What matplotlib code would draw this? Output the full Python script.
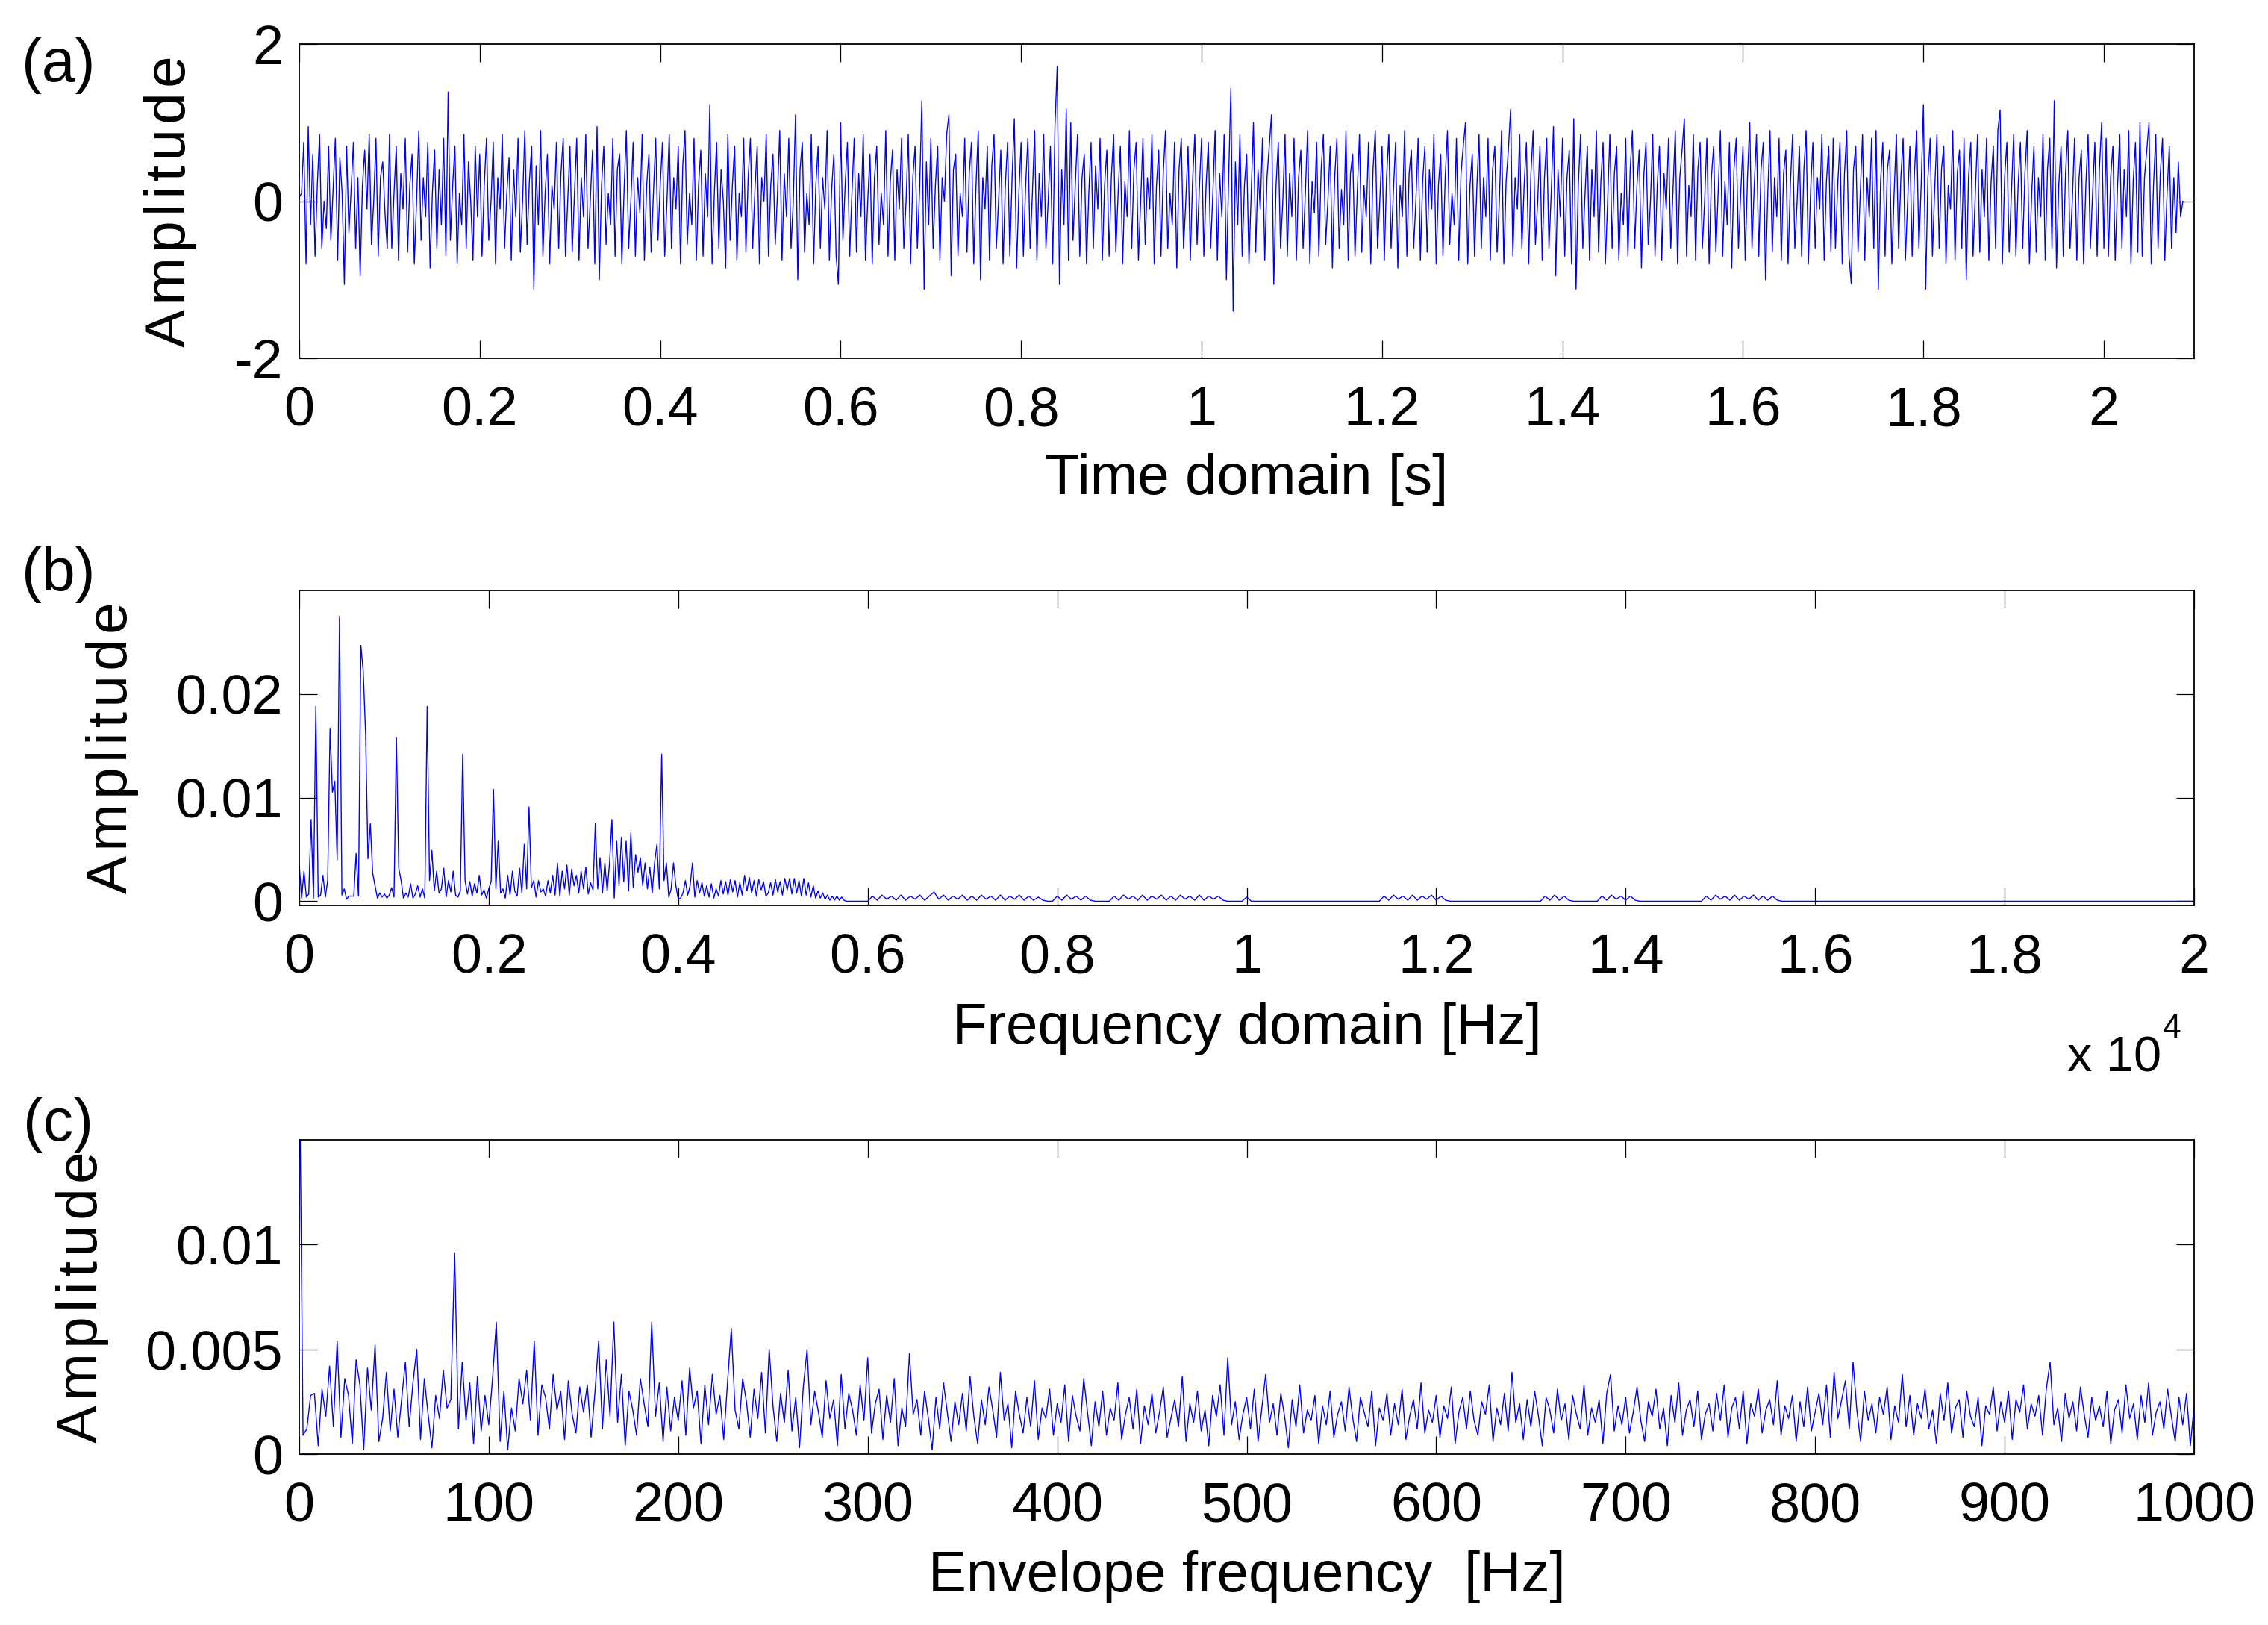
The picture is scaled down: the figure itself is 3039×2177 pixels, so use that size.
import numpy as np
import matplotlib
matplotlib.use('Agg')
import matplotlib.pyplot as plt

# ---------------- data ----------------
# (a) time signal, 400 display samples per second
time_fs = 400.0
time_amp = [
 .05,.1,.75,-.8,.95,-.3,.6,-.7,.2,.85,-.6,.0,-.35,.7,-.5,.15,.8,-.75,.55,.1,-1.06,.7,-.4,.15,.75,-.6,.3,-.95,.2,.65,-.1,.85,-.55,.0,.8,-.7,.3,.5,-.15,-.6,
 .85,-.6,.1,.7,-.75,.35,-.1,.8,-.65,.2,.6,-.8,.0,.9,-.5,.3,-.2,.75,-.85,.1,.65,-.6,.4,-.3,.8,-.7,1.39,-.5,.2,.7,-.8,.1,-.3,.85,-.6,.5,.0,-.75,.7,-.2,
 .6,-.7,.2,.8,-.5,.0,.75,-.8,.3,-.1,.85,-.6,.1,.55,-.75,.4,-.2,.8,-.65,.0,.9,-.55,.25,.7,-1.12,.45,-.3,.9,-.7,.1,.6,-.8,.2,-.1,.75,-.6,.35,.8,-.7,.0,
 .7,-.65,.1,.8,-.75,.3,-.2,.85,-.6,.0,.65,-.8,.95,-1.0,.2,.7,-.55,.1,-.3,.8,-.7,.4,.6,-.8,.15,.9,-.6,.0,.75,-.7,.3,-.15,.85,-.75,.2,.6,-.65,.1,.8,-.5,
 .2,.75,-.7,.0,.85,-.6,.3,-.1,.7,-.8,.45,.9,-.55,.1,-.3,.8,-.75,.2,.65,-.7,.35,-.2,1.23,-.8,.1,.75,-.6,.4,.0,-.85,.85,-.5,.2,.7,-.75,.1,-.2,.8,-.65,.3,
 .8,-.6,.15,.7,-.8,.3,.0,.85,-.7,.2,.6,-.55,.1,.9,-.75,.35,-.2,.8,-.6,.0,1.1,-1.0,.4,.75,-.65,.1,-.3,.85,-.8,.2,.7,-.6,.3,-.1,.9,-.75,.15,.6,-.7,-1.06,
 1.0,-.5,.2,.75,-.7,.1,.8,-.65,.35,-.2,.85,-.75,.0,.6,-.8,.3,.7,-.55,.1,-.3,.9,-.7,.25,.65,-.75,.4,-.1,.8,-.6,.0,.85,-.8,.3,.7,-.6,.15,1.28,-1.12,.5,-.3,
 .8,-.6,.2,.7,-.75,.3,.0,.85,1.1,-.95,.4,.6,-.7,.1,-.2,.8,-.65,.35,.75,-.8,.2,.9,-1.0,.3,-.1,.7,-.75,.45,.85,-.6,.0,.65,-.8,.2,.75,-.7,.3,1.05,-.85,.1,
 .75,-.7,.2,.8,-.6,.1,.9,-.75,.35,-.2,.85,-.6,.0,.7,-.8,.95,1.72,-1.06,.4,-.3,1.17,-.75,1.0,-.5,.2,.85,-.7,.3,.6,-.8,.1,.75,-.6,.45,-.1,.8,-.75,.2,.65,-.7,
 .3,.85,-.65,.1,.7,-.8,.25,-.2,.9,-.6,.4,.75,-.75,.0,.8,-.55,.3,-.1,.85,-.8,.2,.65,-.7,.35,.9,-.6,.1,-.3,.75,-.85,.4,.8,-.6,.0,.7,-.75,.25,.85,-.55,.15,
 .8,-.7,.2,.75,-.6,.1,.9,-.75,.35,-.2,.85,-1.0,.3,1.44,-1.40,.5,-.3,.85,-.7,.2,.6,-.8,.1,1.0,-.65,.4,-.1,.8,-.75,.3,.7,1.1,-1.06,.2,.75,-.6,.0,.85,-.7,.35,
 -.2,.8,-.75,.3,.65,-.6,.1,.9,-.8,.25,-.15,.75,-.7,.4,.85,-.55,.0,.7,-.85,.3,.8,-.6,.15,-.3,.9,-.75,.35,.6,-.7,.1,.85,-.65,.2,-.2,.75,-.8,.4,.9,-.6,.0,
 .7,-.75,.3,.85,-.6,.1,.75,-.85,.2,-.2,.9,-.7,.35,.65,-.6,.0,.8,-.75,.25,.7,-.65,.4,-.1,.85,-.8,.2,.6,-.7,.3,.9,-.55,.1,-.3,.8,-.75,.35,.7,1.0,-.8,.2,
 .6,-.7,.15,.85,-.6,.3,-.2,.8,-.75,.4,.7,-.65,.0,.9,-.8,.25,.65,1.17,-.7,.3,-.1,.85,-.6,.2,.75,-.8,.35,.9,-.55,.0,.7,-.75,.3,.8,-.6,.1,.95,-.95,.4,-.2,
 .8,-.7,.3,.65,-.8,1.05,-1.12,.2,.85,-.6,.1,.7,-.75,.4,-.2,.9,-.65,.25,.75,-.8,.0,.85,-.6,.35,.7,-.75,.1,-.3,.8,-.7,.4,.9,-.6,.2,.65,-.85,.3,.75,-.55,.0,
 .85,-.7,.2,.7,-.75,.35,-.1,.8,-.6,.15,.9,-.8,.3,.65,1.05,-.7,.2,-.2,.85,-.75,.4,.75,-.6,.0,.8,-.8,.3,.7,-.65,.1,.9,-.7,.25,-.3,.75,-.85,.4,.8,-.6,.1,
 .7,-.75,.3,1.0,-.6,.2,.85,-.7,.4,.75,-1.0,.1,.9,-.65,.3,-.2,.8,-.75,.35,.65,-.8,.2,.85,-.6,.0,.7,-.7,.4,.9,-.8,.15,.75,-.6,.3,-.1,.85,-.75,.25,.7,-.65,
 .8,-.6,.2,.75,-.8,.35,.9,-.7,-1.05,.4,.7,-.65,.1,.85,-.75,.3,-.2,.8,-.6,.9,-1.12,.25,.75,-.7,.4,.65,-.8,.1,.85,-.6,.3,.8,-.75,.0,.7,-.7,.35,.9,-.6,.2,
 1.23,-1.12,.3,.8,-.7,.15,.85,-.6,.4,.7,-.8,.2,-.1,.9,-.75,.35,.65,-.6,.8,-1.0,.3,.75,-.7,.1,.85,-.65,.4,-.2,.8,-.75,.25,.7,-.6,.9,1.16,-.8,.3,.75,-.65,.1,
 .85,-.7,.2,.75,-.6,.35,.9,-.8,.1,.7,-.65,.3,-.2,.85,-.75,.4,.8,-.6,1.28,-.85,.2,.7,-.7,.35,.9,-.6,.0,.8,-.75,.3,.65,-.8,.2,.85,-.6,.1,.75,-.7,.4,1.0,
 -.6,.8,-.7,.3,.7,-.75,.15,.85,-.6,.4,-.2,.9,-.8,.25,.75,-.65,1.0,-.7,.3,.65,1.0,-.8,.2,.85,-.6,.35,.8,-.75,.1,.7,-.6,.3,-.4,.5,-.2,.0,
]

# (b) amplitude spectrum, 0-6000 Hz at 25 Hz steps
spec_low_step_hz = 25.0
spec_low = [
 .0035,.0003,.0029,.0004,.0007,.0079,.0003,.0188,.0004,.0006,
 .0025,.0004,.0020,.0167,.0105,.0116,.0040,.0275,.0006,.0012,
 .0002,.0005,.0005,.0005,.0046,.0005,.0247,.0222,.0162,.0041,
 .0075,.0027,.0015,.0003,.0008,.0004,.0007,.0003,.0006,.0013,
 .0004,.0158,.0032,.0020,.0003,.0008,.0004,.0017,.0003,.0007,
 .0015,.0004,.0012,.0003,.0188,.0020,.0049,.0010,.0029,.0008,
 .0012,.0032,.0004,.0020,.0009,.0029,.0006,.0004,.0010,.0142,
 .0020,.0007,.0019,.0005,.0017,.0008,.0025,.0006,.0011,.0003,
 .0012,.0019,.0108,.0012,.0058,.0008,.0012,.0003,.0025,.0006,
 .0029,.0010,.0005,.0032,.0008,.0055,.0012,.0091,.0013,.0020,
 .0004,.0020,.0009,.0012,.0005,.0020,.0008,.0025,.0006,.0037,
 .0005,.0029,.0012,.0035,.0006,.0031,.0015,.0025,.0008,.0029,
 .0012,.0033,.0007,.0018,.0011,.0075,.0012,.0042,.0008,.0037,
 .0010,.0037,.0079,.0003,.0058,.0015,.0062,.0019,.0058,.0010,
 .0066,.0013,.0045,.0028,.0042,.0015,.0037,.0012,.0033,.0008,
 .0037,.0055,.0012,.0142,.0020,.0037,.0004,.0012,.0037,.0015,
 .0002,.0003,.0008,.0020,.0006,.0015,.0037,.0004,.0020,.0008,
 .0018,.0005,.0015,.0004,.0017,.0003,.0012,.0005,.0020,.0007,
 .0019,.0006,.0021,.0009,.0020,.0004,.0018,.0006,.0025,.0010,
 .0023,.0008,.0020,.0005,.0021,.0011,.0019,.0005,.0008,.0018,
 .0006,.0021,.0009,.0019,.0006,.0022,.0011,.0022,.0007,.0022,
 .0008,.0020,.0005,.0022,.0006,.0018,.0004,.0015,.0003,.0010,
 .0003,.0008,.0002,.0006,.0001,.0005,.0001,.0005,.0001,.0004,
 .0001,0,0,0,0,0,0,0,0,0,0,
]
# (b) amplitude spectrum, 6050-20000 Hz at 50 Hz steps
spec_high_start_hz = 6050.0
spec_high_step_hz = 50.0
spec_high = [
 .0005,.0001,.0006,.0002,.0005,.0001,.0006,.0001,.0005,.0002,.0006,.0001,.0005,.0009,.0002,.0006,.0001,.0005,.0002,.0006,
 .0001,.0005,.0001,.0006,.0002,.0005,.0001,.0006,.0001,.0005,.0002,.0006,.0001,.0005,.0001,.0004,.0001,
 0,0,
 .0005,.0001,.0006,.0002,.0005,.0001,.0005,.0001,
 0,0,0,0,
 .0005,.0001,.0006,.0002,.0005,.0001,.0006,.0001,.0005,.0002,.0006,.0001,.0005,.0001,.0006,.0002,.0005,.0001,.0006,.0001,.0005,.0002,.0005,.0001,
 0,0,0,0,
 .0004,
 0,0,0,0,0,0,0,0,0,0,0,0,0,0,0,0,0,0,0,0,0,0,0,0,0,0,0,0,
 .0005,.0001,.0006,.0002,.0005,.0001,.0006,.0001,.0005,.0002,.0006,.0001,.0005,.0001,
 0,0,0,0,0,0,0,0,0,0,0,0,0,0,0,0,0,0,0,0,
 .0005,.0001,.0006,.0001,.0005,.0001,
 0,0,0,0,0,0,
 .0005,.0001,.0006,.0002,.0005,.0001,.0005,.0001,
 0,0,0,0,0,0,0,0,0,0,0,0,0,0,
 .0005,.0001,.0006,.0002,.0005,.0001,.0006,.0001,.0005,.0002,.0006,.0001,.0005,.0001,.0005,.0001,
 0,0,0,0,0,0,0,0,0,0,0,0,0,0,0,0,0,0,0,0,0,0,
 0,0,0,0,0,0,0,0,0,0,0,0,0,0,0,0,0,0,0,0,0,0,
 0,0,0,0,0,0,0,0,0,0,0,0,0,0,0,0,0,0,0,0,0,0,
 0,0,0,0,0,0,0,0,0,0,0,0,0,0,0,0,0,0,0,0,0,0,
]

# (c) envelope spectrum, 0-1000 Hz at 2 Hz steps
env_step_hz = 2.0
env_amp = [
 .02,.0009,.0012,.0028,.0029,.0004,.0031,.0018,.0042,.0013,.0054,.0008,.0036,.0028,.0005,.0045,.0033,.0002,.0041,.0021,.0052,.0006,.0017,.0039,.0011,
 .0031,.0008,.0026,.0044,.0013,.0034,.0050,.0007,.0036,.0019,.0003,.0028,.0017,.0040,.0022,.0026,.0096,.0012,.0044,.0016,.0034,.0005,.0037,.0011,.0028,
 .0014,.0036,.0063,.0006,.0030,.0002,.0022,.0011,.0036,.0024,.0040,.0016,.0054,.0009,.0033,.0027,.0012,.0038,.0021,.0030,.0007,.0035,.0019,.0010,.0032,
 .0020,.0033,.0008,.0029,.0054,.0012,.0045,.0018,.0063,.0015,.0038,.0004,.0030,.0021,.0009,.0036,.0024,.0013,.0063,.0018,.0034,.0006,.0032,.0011,.0027,
 .0016,.0035,.0009,.0041,.0022,.0030,.0005,.0033,.0014,.0038,.0019,.0028,.0007,.0034,.0060,.0021,.0012,.0036,.0025,.0008,.0031,.0017,.0039,.0010,.0050,
 .0023,.0006,.0029,.0015,.0040,.0011,.0027,.0003,.0032,.0050,.0014,.0030,.0020,.0008,.0035,.0017,.0026,.0004,.0038,.0012,.0029,.0021,.0009,.0033,.0016,
 .0046,.0010,.0024,.0031,.0007,.0028,.0015,.0036,.0004,.0022,.0013,.0048,.0019,.0026,.0009,.0030,.0017,.0002,.0027,.0012,.0034,.0020,.0006,.0025,.0014,
 .0029,.0011,.0037,.0018,.0005,.0026,.0014,.0032,.0021,.0008,.0039,.0016,.0024,.0003,.0030,.0019,.0010,.0027,.0013,.0035,.0007,.0022,.0017,.0031,.0009,
 .0024,.0015,.0033,.0006,.0028,.0018,.0011,.0036,.0020,.0004,.0025,.0013,.0030,.0009,.0022,.0016,.0034,.0007,.0019,.0027,.0012,.0031,.0005,.0023,.0014,
 .0029,.0010,.0020,.0032,.0008,.0017,.0026,.0013,.0037,.0006,.0024,.0015,.0030,.0011,.0021,.0004,.0028,.0018,.0033,.0009,.0046,.0014,.0025,.0007,.0019,
 .0027,.0012,.0031,.0006,.0022,.0038,.0015,.0024,.0009,.0029,.0018,.0003,.0026,.0013,.0033,.0010,.0021,.0016,.0028,.0005,.0023,.0014,.0030,.0008,.0019,
 .0025,.0011,.0032,.0017,.0006,.0027,.0020,.0013,.0030,.0004,.0022,.0016,.0029,.0009,.0024,.0014,.0031,.0007,.0018,.0026,.0012,.0034,.0010,.0021,.0015,
 .0028,.0008,.0023,.0017,.0032,.0005,.0020,.0027,.0012,.0030,.0016,.0009,.0025,.0019,.0033,.0006,.0022,.0014,.0029,.0011,.0039,.0015,.0024,.0007,.0026,
 .0013,.0030,.0018,.0004,.0027,.0021,.0010,.0031,.0016,.0024,.0007,.0028,.0019,.0012,.0033,.0009,.0022,.0015,.0026,.0005,.0029,.0038,.0011,.0023,.0014,
 .0027,.0010,.0020,.0032,.0016,.0006,.0025,.0018,.0031,.0012,.0022,.0004,.0028,.0015,.0034,.0009,.0021,.0026,.0013,.0030,.0007,.0019,.0024,.0011,.0029,
 .0016,.0033,.0008,.0022,.0027,.0012,.0030,.0005,.0024,.0018,.0031,.0010,.0021,.0026,.0014,.0035,.0009,.0023,.0017,.0028,.0006,.0025,.0013,.0032,.0011,
 .0020,.0029,.0014,.0033,.0008,.0039,.0017,.0026,.0035,.0012,.0044,.0021,.0006,.0030,.0016,.0024,.0010,.0027,.0019,.0032,.0007,.0023,.0015,.0038,.0013,
 .0028,.0009,.0024,.0017,.0031,.0012,.0021,.0005,.0029,.0016,.0034,.0010,.0022,.0026,.0008,.0030,.0018,.0013,.0027,.0004,.0023,.0019,.0032,.0011,.0025,
 .0015,.0030,.0007,.0026,.0020,.0033,.0012,.0024,.0018,.0028,.0009,.0031,.0044,.0014,.0022,.0006,.0029,.0017,.0025,.0011,.0032,.0019,.0008,.0027,.0016,
 .0023,.0013,.0030,.0005,.0021,.0026,.0010,.0033,.0017,.0024,.0007,.0028,.0015,.0034,.0009,.0020,.0025,.0012,.0031,.0018,.0006,.0027,.0014,.0029,.0004,
 .0023,
]

# tick values / labels
time_ticks = [0, 0.2, 0.4, 0.6, 0.8, 1.0, 1.2, 1.4, 1.6, 1.8, 2.0]
time_tick_labels = ['0', '0.2', '0.4', '0.6', '0.8', '1', '1.2', '1.4', '1.6', '1.8', '2']
amp_ticks_a = [-2, 0, 2]
amp_tick_labels_a = ['-2', '0', '2']
freq_ticks_hz = [0, 2000, 4000, 6000, 8000, 10000, 12000, 14000, 16000, 18000, 20000]
freq_tick_labels = ['0', '0.2', '0.4', '0.6', '0.8', '1', '1.2', '1.4', '1.6', '1.8', '2']
amp_ticks_b = [0, 0.01, 0.02]
amp_tick_labels_b = ['0', '0.01', '0.02']
env_ticks = [0, 100, 200, 300, 400, 500, 600, 700, 800, 900, 1000]
env_tick_labels = ['0', '100', '200', '300', '400', '500', '600', '700', '800', '900', '1000']
amp_ticks_c = [0, 0.005, 0.01]
amp_tick_labels_c = ['0', '0.005', '0.01']

# ---------------- figure ----------------
plt.rcParams['font.family'] = ['Liberation Sans', 'DejaVu Sans']
W_PX, H_PX = 3039, 2177
fig = plt.figure(figsize=(W_PX / 100, H_PX / 100), dpi=100)
fig.patch.set_facecolor('white')

LEFT, RIGHT = 401, 2940


def add_ax(top_px, bot_px):
    return fig.add_axes([LEFT / W_PX, 1 - bot_px / H_PX,
                         (RIGHT - LEFT) / W_PX, (bot_px - top_px) / H_PX])


ax1 = add_ax(59, 480)
ax2 = add_ax(791, 1213)
ax3 = add_ax(1527, 1948)

TICK_FS = 53
LABEL_FS = 55
BLUE = '#0000ff'
LW = 1.0

for ax in (ax1, ax2, ax3):
    ax.tick_params(direction='in', length=17, width=0.9, top=True, right=True,
                   labelsize=TICK_FS, colors='black')
    ax.tick_params(axis='x', pad=26)
    ax.tick_params(axis='y', pad=16)
    for s in ax.spines.values():
        s.set_linewidth(1.3)
        s.set_color('black')

# (a)
t = np.arange(len(time_amp)) / time_fs
ax1.plot(t, time_amp, color=BLUE, lw=LW)
ax1.set_xlim(0, 2.1)
ax1.set_ylim(-2, 2)
ax1.set_xticks(time_ticks)
ax1.set_xticklabels(time_tick_labels)
ax1.set_yticks(amp_ticks_a)
ax1.set_yticklabels(amp_tick_labels_a)

# (b)
f_low = np.arange(len(spec_low)) * spec_low_step_hz
f_high = spec_high_start_hz + np.arange(len(spec_high)) * spec_high_step_hz
f_b = np.concatenate([f_low, f_high])
a_b = np.concatenate([np.array(spec_low, float), np.array(spec_high, float)])
ax2.plot(f_b, a_b, color=BLUE, lw=LW)
ax2.set_xlim(0, 20000)
ax2.set_ylim(-0.0004, 0.0300)
ax2.set_xticks(freq_ticks_hz)
ax2.set_xticklabels(freq_tick_labels)
ax2.set_yticks(amp_ticks_b)
ax2.set_yticklabels(amp_tick_labels_b)

# (c)
f_env = np.arange(len(env_amp)) * env_step_hz
ax3.plot(f_env, env_amp, color=BLUE, lw=LW)
ax3.set_xlim(0, 1000)
ax3.set_ylim(0, 0.015)
ax3.set_xticks(env_ticks)
ax3.set_xticklabels(env_tick_labels)
ax3.set_yticks(amp_ticks_c)
ax3.set_yticklabels(amp_tick_labels_c)

# labels
amp_label = '\u200a'.join('Amplitude')
cx = (LEFT + RIGHT) / 2 / W_PX
for xpx, ax in ((229, ax1), (151, ax2), (110, ax3)):
    bb = ax.get_position()
    fig.text(xpx / W_PX, (bb.y0 + bb.y1) / 2, amp_label, rotation=90,
             ha='center', va='center', fontsize=LABEL_FS)

fig.text(cx, 1 - 642 / H_PX, 'Time domain [s]', ha='center', va='center', fontsize=LABEL_FS)
fig.text(cx, 1 - 1379 / H_PX, 'Frequency domain [Hz]', ha='center', va='center', fontsize=LABEL_FS)
fig.text(cx, 1 - 2113 / H_PX, 'Envelope frequency  [Hz]', ha='center', va='center', fontsize=LABEL_FS)

fig.text(2770 / W_PX, 1 - 1435 / H_PX, 'x 10', ha='left', va='baseline', fontsize=48)
fig.text(2898 / W_PX, 1 - 1390 / H_PX, '4', ha='left', va='baseline', fontsize=32)

for lab, ypx in (('(a)', 88), ('(b)', 770), ('(c)', 1507)):
    fig.text(78 / W_PX, 1 - ypx / H_PX, lab, ha='center', va='center', fontsize=58)

fig.savefig('out.png', dpi=100, facecolor='white')
